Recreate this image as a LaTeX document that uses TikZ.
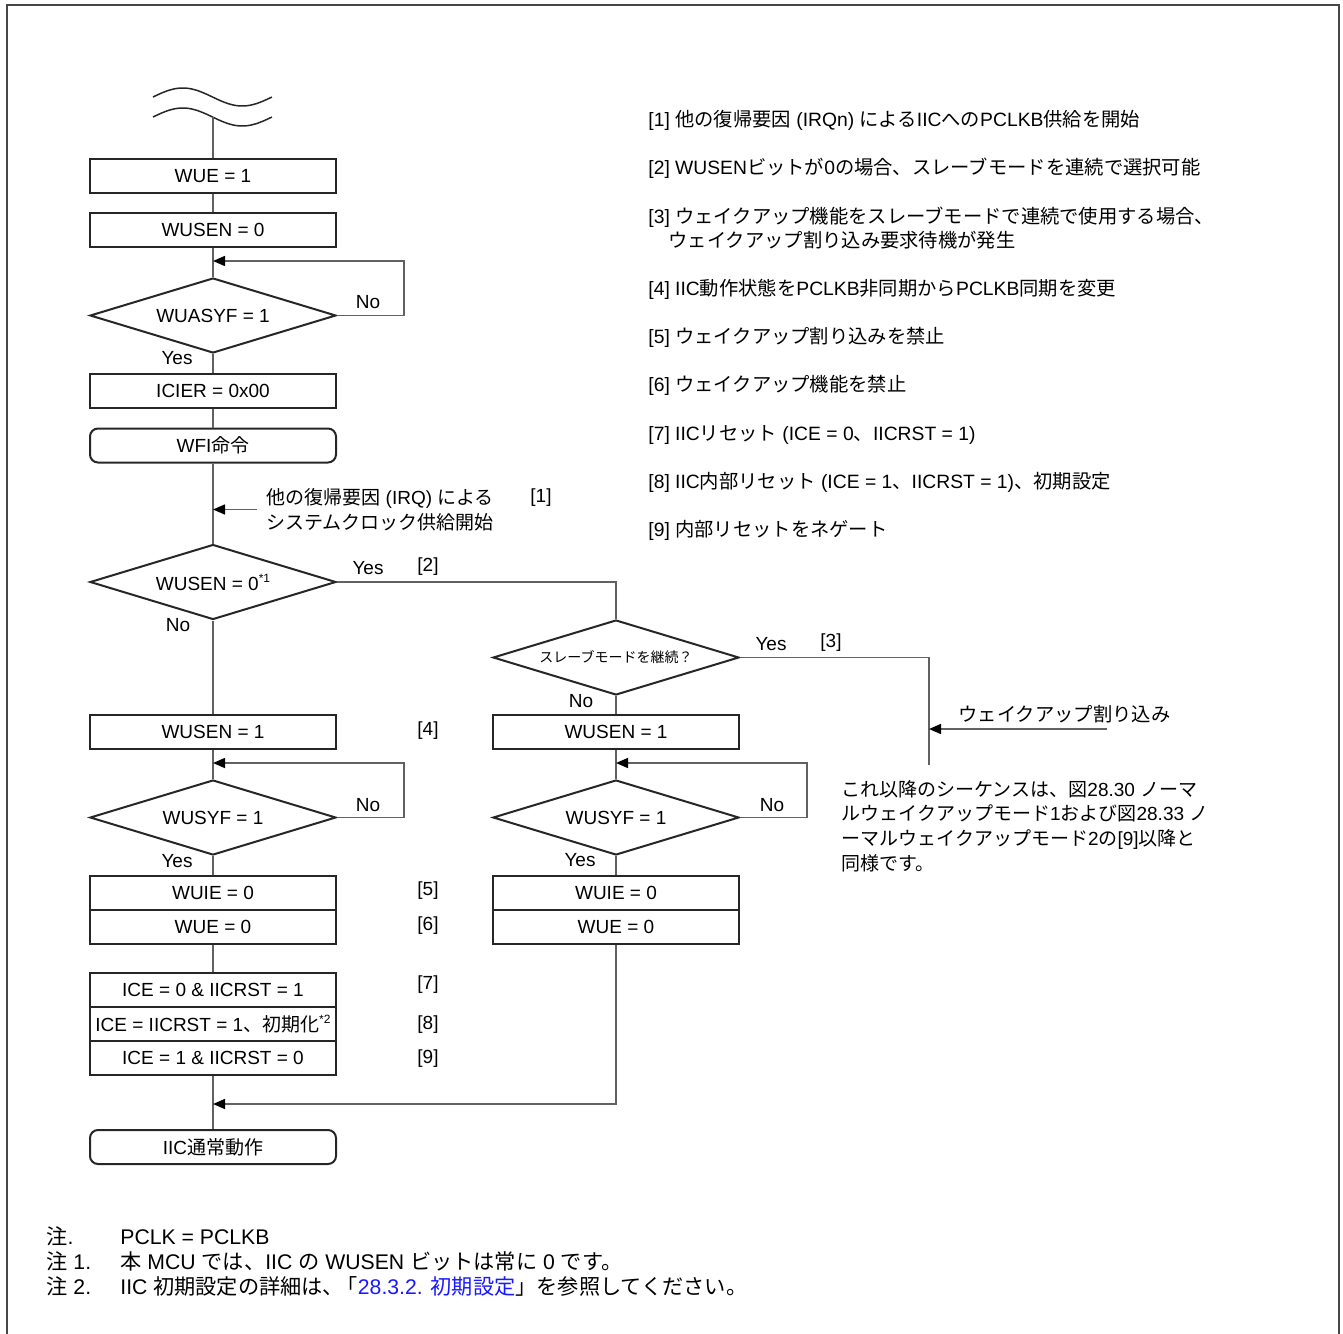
\documentclass[tikz,border=0pt]{standalone}
\usepackage{fontspec}
\setmainfont{Liberation Sans}
\newfontfamily\jpfont{Noto Sans CJK JP}
\usetikzlibrary{shapes.geometric,arrows.meta}
\newcommand\J[1]{{\jpfont #1}}
\newcommand\myfs{\fontsize{9.5pt}{12.4pt}\selectfont}
\newcommand\notefs{\fontsize{9.65pt}{12.4pt}\selectfont}
\newcommand\footfs{\fontsize{10.6pt}{12.4pt}\selectfont}
\newcommand\sups[1]{\raisebox{0.8ex}{\fontsize{6pt}{6pt}\selectfont #1}}
\definecolor{linkblue}{RGB}{25,25,255}
\begin{document}
\begin{tikzpicture}[x=0.5pt,y=-0.5pt,
 box/.style={draw=black!85,line width=1pt,minimum width=123pt,minimum height=17pt,inner sep=0pt,font=\myfs},
 rbox/.style={box,rounded corners=4pt},
 dia/.style={diamond,aspect=3.28,draw=black!85,line width=1pt,minimum width=123pt,minimum height=37.5pt,inner sep=0pt,font=\myfs},
 conn/.style={draw=black!62,line width=0.75pt},
 arr/.style={conn,-{Triangle[length=6pt,width=5pt,color=black]}},
 lbl/.style={font=\myfs,inner sep=0pt},
 note/.style={font=\notefs,inner sep=0pt,anchor=base west},
 foot/.style={font=\footfs,inner sep=0pt,anchor=base west}]

\useasboundingbox (0,0) rectangle (1343,1333);
\draw[black!72,line width=1pt] (7,1345) -- (7,5) -- (1339,5) -- (1339,1345);

% wave symbol
\draw[black!85,line width=0.75pt,domain=0:1,samples=60] plot ({153+119*\x},{97-9*sin(360*\x)});
\draw[black!85,line width=0.75pt,domain=0:1,samples=60] plot ({153+119*\x},{117-9*sin(360*\x)});
\coordinate (w) at (213,117);

% left column
\node[box] (b1) at (213,176) {WUE = 1};
\node[box] (b2) at (213,229.5) {WUSEN = 0};
\node[dia] (d1) at (213,315.5) {WUASYF = 1};
\node[box] (b3) at (213,390.5) {ICIER = 0x00};
\node[rbox] (wfi) at (213,445.5) {WFI\J{命令}};
\node[dia] (d2) at (213,582) {WUSEN = 0\sups{*1}};
\node[box] (lb1) at (213,732) {WUSEN = 1};
\node[dia] (d4) at (213,817.5) {WUSYF = 1};
\node[box] (lb2) at (213,893) {WUIE = 0};
\node[box] (lb3) at (213,927) {WUE = 0};
\node[box] (lb4) at (213,990) {ICE = 0 \& IICRST = 1};
\node[box] (lb5) at (213,1024) {ICE = IICRST = 1\J{、初期化}\sups{*2}};
\node[box] (lb6) at (213,1058) {ICE = 1 \& IICRST = 0};
\node[rbox] (fin) at (213,1147) {IIC\J{通常動作}};

% right column
\node[dia,font=\fontsize{7pt}{8pt}\selectfont] (d3) at (616,657.5) {\J{スレーブモードを継続？}};
\node[box] (rb1) at (616,731.5) {WUSEN = 1};
\node[dia] (d5) at (616,817.5) {WUSYF = 1};
\node[box] (rb2) at (616,893) {WUIE = 0};
\node[box] (rb3) at (616,927) {WUE = 0};

% side texts
\node[font=\fontsize{9.5pt}{12.5pt}\selectfont,inner sep=0pt,inner xsep=4.5pt,anchor=west,align=left] (irq) at (257,509.5)
  {\J{他の復帰要因} (IRQ) \J{による}\\\J{システムクロック供給開始}};
\node[note] (wkt) at (958,721) {\J{ウェイクアップ割り込み}};
\node[font=\fontsize{9.5pt}{12.35pt}\selectfont,inner sep=0pt,anchor=west,align=left] (seq) at (841,826)
  {\J{これ以降のシーケンスは、図}28.30 \J{ノーマ}\\
   \J{ルウェイクアップモード}1\J{および図}28.33 \J{ノ}\\
   \J{ーマルウェイクアップモード}2\J{の}[9]\J{以降と}\\
   \J{同様です。}};

% connectors
\draw[conn] (w) -- (b1.north);
\draw[conn] (b1.south) -- (b2.north);
\draw[conn] (b2.south) -- (d1.north);
\coordinate (l1) at (404,261);
\draw[arr] (d1.east) -| (l1) -- (l1 -| d1.north);
\draw[conn] (d1.south) -- (b3.north);
\draw[conn] (b3.south) -- (wfi.north);
\draw[conn] (wfi.south) -- (d2.north);
\draw[arr] (irq.west) -- (irq.west -| d2.north);
\draw[conn] (d2.east) -| (d3.north);
\draw[conn] (d2.south) -- (lb1.north);
\draw[conn] (lb1.south) -- (d4.north);
\coordinate (l4) at (404,763);
\draw[arr] (d4.east) -| (l4) -- (l4 -| d4.north);
\draw[conn] (d4.south) -- (lb2.north);
\draw[conn] (lb3.south) -- (lb4.north);
\draw[conn] (lb6.south) -- (fin.north);
\draw[conn] (d3.south) -- (rb1.north);
\draw[conn] (rb1.south) -- (d5.north);
\coordinate (l5) at (807,763);
\draw[arr] (d5.east) -| (l5) -- (l5 -| d5.north);
\draw[conn] (d5.south) -- (rb2.north);
\coordinate (j) at (616,1104);
\draw[arr] (rb3.south) -- (j) -- (j -| fin.north);
\coordinate (c3) at (929,765);
\draw[conn] (d3.east) -| (c3);
\coordinate (wk) at (1107,729);
\draw[arr] (wk) -- (wk -| c3);

% branch labels
\node[lbl] at (368,302) {No};
\node[lbl] at (177,358) {Yes};
\node[lbl] at (541,498) {[1]};
\node[lbl] at (368,568) {Yes};
\node[lbl] at (428,567) {[2]};
\node[lbl] at (178,625) {No};
\node[lbl] at (771,644) {Yes};
\node[lbl] at (831,643) {[3]};
\node[lbl] at (581,701) {No};
\node[lbl] at (428,731) {[4]};
\node[lbl] at (368,805) {No};
\node[lbl] at (177,861) {Yes};
\node[lbl] at (772,805) {No};
\node[lbl] at (580,860) {Yes};
\node[lbl] at (428,891) {[5]};
\node[lbl] at (428,926) {[6]};
\node[lbl] at (428,985) {[7]};
\node[lbl] at (428,1025) {[8]};
\node[lbl] at (428,1059) {[9]};

% notes on the right
\node[note] (n1) at (648,126) {[1] \J{他の復帰要因} (IRQn) \J{による}IIC\J{への}PCLKB\J{供給を開始}};
\node[note] (n2) at (648,174) {[2] WUSEN\J{ビットが}0\J{の場合、スレーブモードを連続で選択可能}};
\node[note] (n3) at (648,223) {[3] \J{ウェイクアップ機能をスレーブモードで連続で使用する場合、}};
\node[note] (n3b) at (668,247) {\J{ウェイクアップ割り込み要求待機が発生}};
\node[note] (n4) at (648,295) {[4] IIC\J{動作状態を}PCLKB\J{非同期から}PCLKB\J{同期を変更}};
\node[note] (n5) at (648,343) {[5] \J{ウェイクアップ割り込みを禁止}};
\node[note] (n6) at (648,391) {[6] \J{ウェイクアップ機能を禁止}};
\node[note] (n7) at (648,440) {[7] IIC\J{リセット} (ICE = 0\J{、}IICRST = 1)};
\node[note] (n8) at (648,488) {[8] IIC\J{内部リセット} (ICE = 1\J{、}IICRST = 1)\J{、初期設定}};
\node[note] (n9) at (648,536) {[9] \J{内部リセットをネゲート}};

% footnotes
\node[foot] (f0) at (46,1244) {\J{注}.};
\node[foot] (f0b) at (120,1244) {PCLK = PCLKB};
\node[foot] (f1) at (46,1269) {\J{注} 1.};
\node[foot] (f1b) at (120,1269) {\J{本} MCU \J{では、}IIC \J{の} WUSEN \J{ビットは常に} 0 \J{です。}};
\node[foot] (f2) at (46,1294) {\J{注} 2.};
\node[foot] (f2b) at (120,1294) {IIC \J{初期設定の詳細は、}\kern-0.35em\J{「}\textcolor{linkblue}{28.3.2. \J{初期設定}}\J{」を参照してください。}};
\end{tikzpicture}
\end{document}
